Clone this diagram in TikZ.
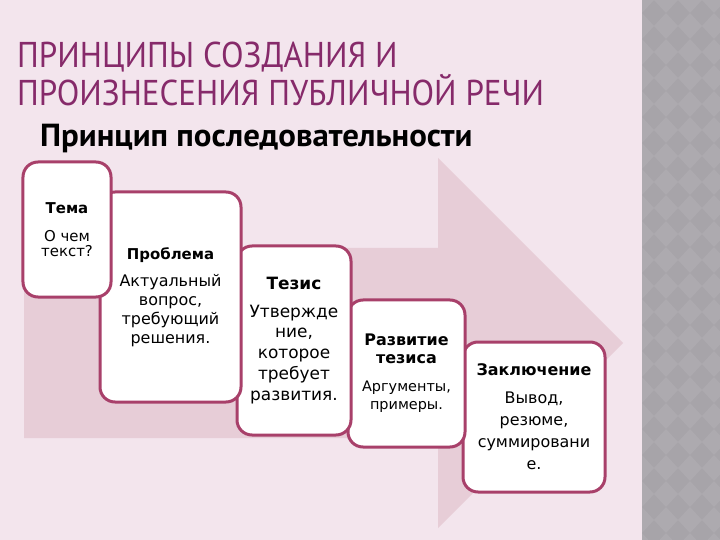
\documentclass[tikz,border=0pt]{standalone}
\usepackage{fontspec}
\setmainfont{DejaVu Sans}
\newfontfamily\headfont[FakeStretch=0.92]{PT Sans}
\newfontfamily\subfont[FakeStretch=1.03]{PT Sans}
\usetikzlibrary{calc,backgrounds}
\definecolor{pinkbg}{RGB}{243,229,237}
\definecolor{arrowfill}{RGB}{231,205,215}
\definecolor{boxline}{RGB}{168,64,106}
\definecolor{titlecol}{RGB}{134,42,106}
\definecolor{stripgray}{RGB}{167,164,169}
\definecolor{stripdiamond}{RGB}{173,170,175}
\newcommand{\rimcolor}{boxline}
\newcommand{\rimwidth}{3bp}
\newcommand{\corner}{15bp}
\tikzset{
  stepbox/.style={draw=\rimcolor, line width=\rimwidth, fill=white,
    rounded corners=\corner, align=center, inner sep=0pt},
  headline/.style={anchor=base west, inner sep=0pt}
}

\begin{document}
\begin{tikzpicture}[x=1bp,y=-1bp]
\useasboundingbox (0,0) rectangle (720,540);
\fill[pinkbg] (0,0) rectangle (642,540);
%strip
\fill[stripgray] (642,0) rectangle (720,540);
\begin{scope}
\clip (642,0) rectangle (720,540);
\foreach \i in {0,...,4}
  \foreach \j in {0,...,21}
    \fill[stripdiamond] (642+24*\i,26*\j) +(-12,0) -- +(0,-13) -- +(12,0) -- +(0,13) -- cycle;
\end{scope}
%arrow
\fill[arrowfill] (24,248) -- (438,248) -- (438,158) -- (623,343) -- (438,528) -- (438,438) -- (24,438) -- cycle;
%title
\node[headline, text=titlecol, font=\headfont\fontsize{36}{38}\selectfont] (title1) at (17,68) {ПРИНЦИПЫ СОЗДАНИЯ И};
\node[headline, text=titlecol, font=\headfont\fontsize{36}{38}\selectfont] (title2) at (17,106) {ПРОИЗНЕСЕНИЯ ПУБЛИЧНОЙ РЕЧИ};
\node[headline, font=\subfont\bfseries\fontsize{32}{34}\selectfont] (sub) at (40,147) {Принцип последовательности};
%5
\node[stepbox, minimum width=142bp, minimum height=150bp, font=\fontsize{16}{22}\selectfont] (zakl) at (534,417)
  {\textbf{Заключение}\\[6bp] Вывод,\\ резюме,\\ суммировани\\ е.};
%4
\node[stepbox, minimum width=117bp, minimum height=147bp, font=\fontsize{14.5}{18}\selectfont] (razvitie) at (406.5,373.5)
  {{\fontsize{16}{20}\selectfont\bfseries Развитие}\\ {\fontsize{16}{20}\selectfont\bfseries тезиса}\\[10bp] Аргументы,\\ примеры.};
%3
\node[stepbox, minimum width=114bp, minimum height=189bp, font=\fontsize{17}{21}\selectfont] (tezis) at (294,340.5)
  {\textbf{Тезис}\\[7bp] Утвержде\\ ние,\\ которое\\ требует\\ развития.};
%2
\node[stepbox, minimum width=141bp, minimum height=210bp, font=\fontsize{16}{19}\selectfont] (problema) at (170.5,297)
  {{\fontsize{15}{19}\selectfont\bfseries Проблема}\\[8bp] Актуальный\\ вопрос,\\ требующий\\ решения.};
%1
\node[stepbox, minimum width=88bp, minimum height=135bp, font=\fontsize{15}{15}\selectfont] (tema) at (67,229.5)
  {\textbf{Тема}\\[13bp] О чем\\ текст?};
\end{tikzpicture}
\end{document}
